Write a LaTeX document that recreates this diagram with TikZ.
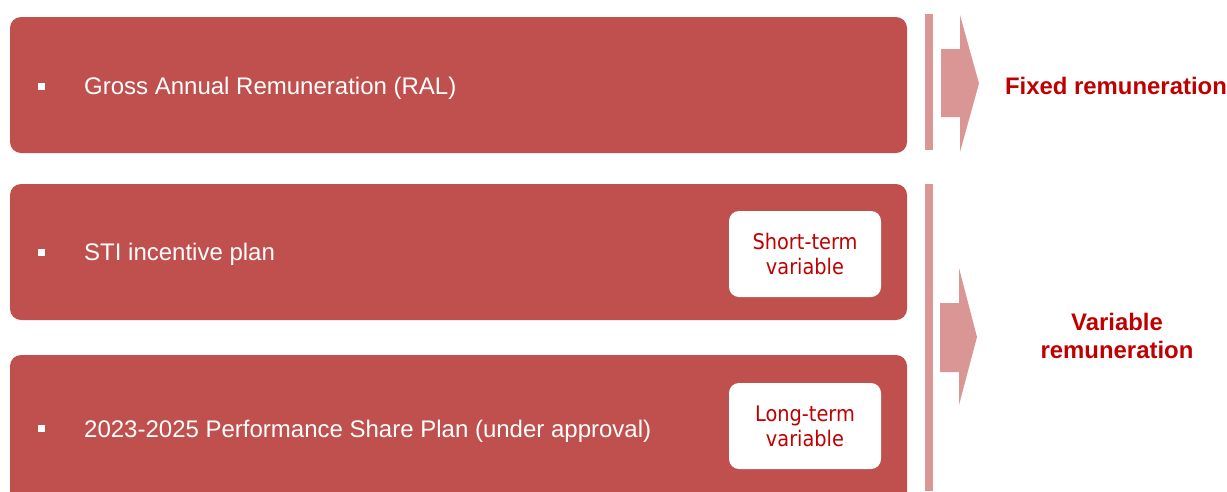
\documentclass[tikz,border=0pt]{standalone}
\usepackage{fontspec}
\setmainfont{Liberation Sans}
\newfontfamily\tagfont{DejaVu Sans Condensed}
\definecolor{boxred}{HTML}{C0504D}
\definecolor{lightred}{HTML}{D99694}
\definecolor{textred}{HTML}{C00000}
\begin{document}
\begin{tikzpicture}[x=1pt,y=-1pt,
  mainbox/.style={fill=boxred,draw=none,rounded corners=11pt},
  tagbox/.style={fill=white,draw=none,rounded corners=10pt,minimum width=152pt,minimum height=86pt,align=center,text=textred,font=\tagfont\fontsize{21.5}{25}\selectfont,inner sep=0pt},
  itemtext/.style={anchor=west,text=white,font=\fontsize{24}{28}\selectfont,inner sep=0pt},
  bulletsq/.style={fill=white,draw=none,minimum size=7pt,inner sep=0pt},
  restext/.style={text=textred,font=\bfseries\fontsize{23.9}{28}\selectfont,align=center},
  lightfill/.style={fill=lightred,draw=none}]
\useasboundingbox (0,0) rectangle (1227,491);
% main boxes
\path[mainbox] (10,17) rectangle (907,153);
\path[mainbox] (10,184) rectangle (907,320);
\path[mainbox] (10,355) rectangle (907,505);
\node[bulletsq] (b1) at (41.5,86) {};
\node[bulletsq] (b2) at (41.5,252) {};
\node[bulletsq] (b3) at (41.5,428) {};
\node[itemtext] (t1) at (84,88) {Gross Annual Remuneration (RAL)};
\node[itemtext] (t2) at (84,254) {STI incentive plan};
\node[itemtext] (t3) at (84,431) {2023-2025 Performance Share Plan (under approval)};
\node[tagbox] (s1) at (805,254) {Short-term\\variable};
\node[tagbox] (s2) at (805,426) {Long-term\\variable};
% bars
\path[lightfill] (925,14) rectangle (933,150);
\path[lightfill] (925,184) rectangle (933,491);
% arrows
\path[lightfill] (941,49) -- (960,49) -- (960,15) -- (979,83.5) -- (960,152) -- (960,117) -- (941,117) -- cycle;
\path[lightfill] (940,303) -- (959,303) -- (959,268) -- (977,337) -- (959,405) -- (959,372) -- (940,372) -- cycle;
\node[restext] (r1) at (1116,86) {Fixed remuneration};
\node[restext] (r2) at (1117,336) {Variable\\remuneration};
\end{tikzpicture}
\end{document}
